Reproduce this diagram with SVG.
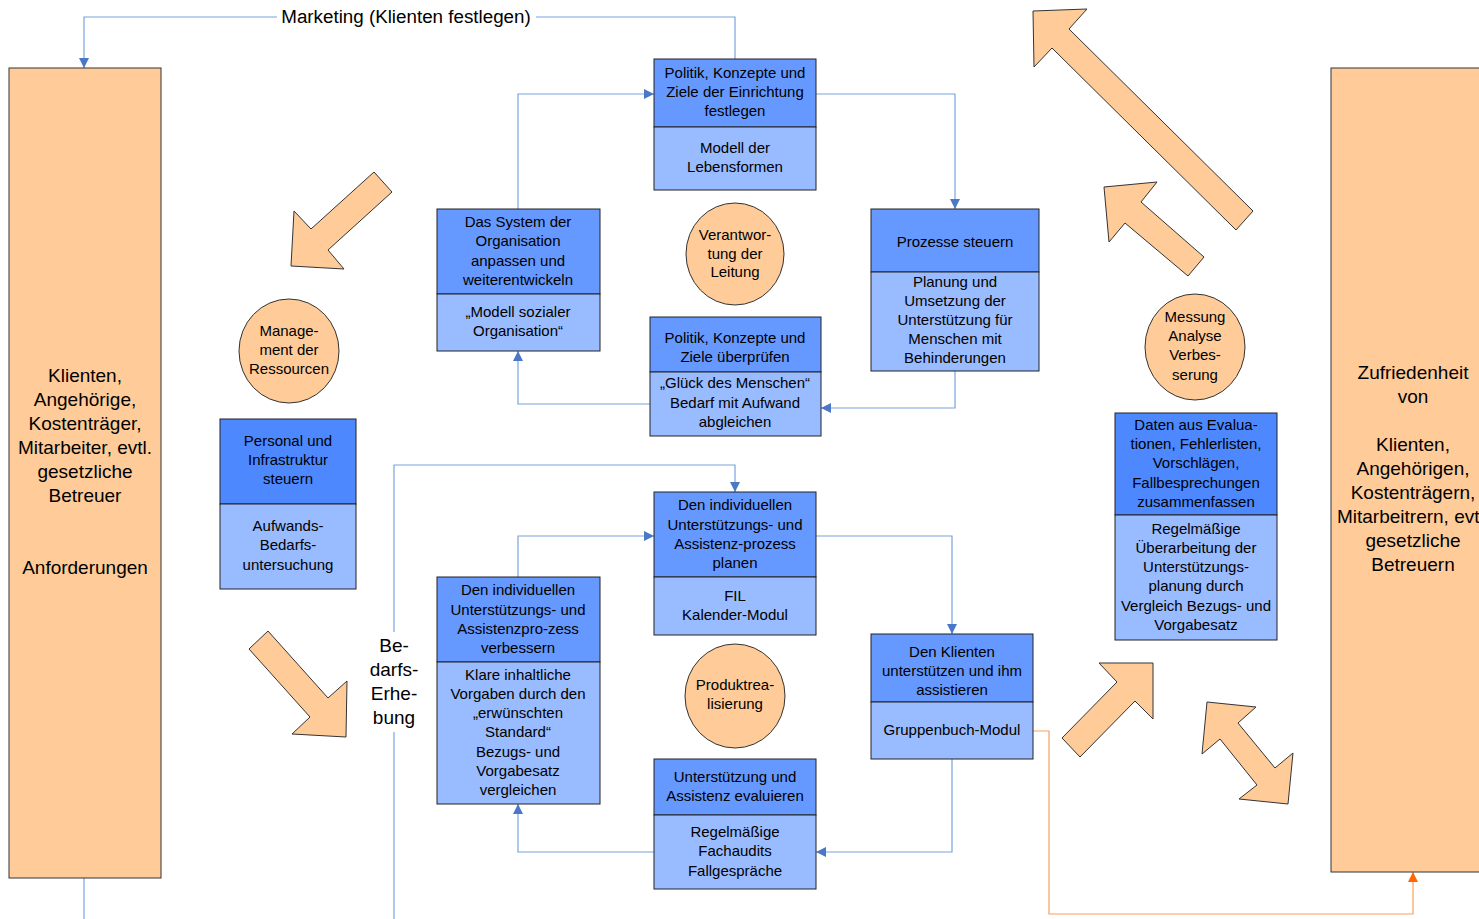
<svg xmlns="http://www.w3.org/2000/svg" width="1479" height="919" viewBox="0 0 1479 919">
<style>
text{font-family:"Liberation Sans",Arial,sans-serif;fill:#000;text-anchor:middle}
.t{font-size:15px}
.big{font-size:19px}
.hd{fill:#6699FF;stroke:#222;stroke-width:1}
.hd2{fill:#4D88FF;stroke:#222;stroke-width:1}
.bd{fill:#99BBFF;stroke:#222;stroke-width:1}
.pe{fill:#FFCC99;stroke:#333;stroke-width:1}
.cn{fill:none;stroke:#7BA3DC;stroke-width:1.2}
.or{fill:none;stroke:#F9A060;stroke-width:1.2}
</style>
<defs>
<marker id="ab" viewBox="0 0 10 10" refX="10" refY="5" markerWidth="10" markerHeight="10" markerUnits="userSpaceOnUse" orient="auto"><path d="M0,0 L10,5 L0,10 z" fill="#4A78C6"/></marker>
<marker id="ao" viewBox="0 0 10 10" refX="10" refY="5" markerWidth="10" markerHeight="10" markerUnits="userSpaceOnUse" orient="auto"><path d="M0,0 L10,5 L0,10 z" fill="#FF6600"/></marker>
</defs>

<g id="connectors">
<path class="cn" d="M735,59 V17 H536"/>
<path class="cn" d="M277,17 H84 V68" marker-end="url(#ab)"/>
<path class="cn" d="M84,878 V919"/>
<path class="cn" d="M816,94 H955 V209" marker-end="url(#ab)"/>
<path class="cn" d="M955,371 V408 H821" marker-end="url(#ab)"/>
<path class="cn" d="M650,404 H518 V351" marker-end="url(#ab)"/>
<path class="cn" d="M518,209 V94 H654" marker-end="url(#ab)"/>
<path class="cn" d="M394,919 V732"/>
<path class="cn" d="M394,632 V465 H735 V492" marker-end="url(#ab)"/>
<path class="cn" d="M816,536 H952 V634" marker-end="url(#ab)"/>
<path class="cn" d="M952,759 V852 H816" marker-end="url(#ab)"/>
<path class="cn" d="M654,852 H518 V804" marker-end="url(#ab)"/>
<path class="cn" d="M518,577 V536 H654" marker-end="url(#ab)"/>
<path class="or" d="M1033,731 H1049 V914 H1413 V872" marker-end="url(#ao)"/>
<text x="406" y="23" style="font-size:18.8px">Marketing (Klienten festlegen)</text>
<text class="big" x="394" y="652">Be-</text>
<text class="big" x="394" y="676">darfs-</text>
<text class="big" x="394" y="700">Erhe-</text>
<text class="big" x="394" y="724">bung</text>
</g>

<g id="arrows">
<polygon class="pe" points="374,172 392,192 328,250 344,269 291,266 294,211 311,229"/>
<polygon class="pe" points="249,649 268,631 328,698 347,681 346,737 292,734 310,717"/>
<polygon class="pe" points="1033,11 1087,9 1069,29 1253,211 1236,230 1052,48 1034,67"/>
<polygon class="pe" points="1104,187 1157,182 1141,202 1204,257 1188,276 1125,223 1109,242"/>
<polygon class="pe" points="1099,663 1153,663 1153,719 1135,701 1080,757 1062,738 1117,682"/>
<polygon class="pe" points="1207,702 1256,707 1238,723 1275,768 1293,753 1288,804 1239,799 1257,785 1220,739 1202,754"/>
</g>

<g id="left-box">
<rect class="pe" x="9" y="68" width="152" height="810"/>
<text class="big" x="85" y="382">Klienten,</text>
<text class="big" x="85" y="406">Angehörige,</text>
<text class="big" x="85" y="430">Kostenträger,</text>
<text class="big" x="85" y="454">Mitarbeiter, evtl.</text>
<text class="big" x="85" y="478">gesetzliche</text>
<text class="big" x="85" y="502">Betreuer</text>
<text class="big" x="85" y="574">Anforderungen</text>
</g>

<g id="right-box">
<rect class="pe" x="1331" y="68" width="170" height="804"/>
<text class="big" x="1413" y="379">Zufriedenheit</text>
<text class="big" x="1413" y="403">von</text>
<text class="big" x="1413" y="451">Klienten,</text>
<text class="big" x="1413" y="475">Angehörigen,</text>
<text class="big" x="1413" y="499">Kostenträgern,</text>
<text class="big" x="1413" y="523">Mitarbeitrern, evtl.</text>
<text class="big" x="1413" y="547">gesetzliche</text>
<text class="big" x="1413" y="571">Betreuern</text>
</g>

<g id="politik-festlegen">
<rect class="hd" x="654" y="59" width="162" height="68"/>
<rect class="bd" x="654" y="127" width="162" height="63"/>
<text class="t" x="735" y="78">Politik, Konzepte und</text>
<text class="t" x="735" y="97">Ziele der Einrichtung</text>
<text class="t" x="735" y="116">festlegen</text>
<text class="t" x="735" y="153">Modell der</text>
<text class="t" x="735" y="172">Lebensformen</text>
</g>

<g id="system-organisation">
<rect class="hd" x="437" y="209" width="163" height="85"/>
<rect class="bd" x="437" y="294" width="163" height="57"/>
<text class="t" x="518" y="227">Das System der</text>
<text class="t" x="518" y="246">Organisation</text>
<text class="t" x="518" y="266">anpassen und</text>
<text class="t" x="518" y="285">weiterentwickeln</text>
<text class="t" x="518" y="317">„Modell sozialer</text>
<text class="t" x="518" y="336">Organisation“</text>
</g>

<g id="verantwortung">
<ellipse class="pe" cx="735" cy="254" rx="49" ry="51"/>
<text class="t" x="735" y="240">Verantwor-</text>
<text class="t" x="735" y="259">tung der</text>
<text class="t" x="735" y="277">Leitung</text>
</g>

<g id="politik-ueberpruefen">
<rect class="hd" x="650" y="317" width="171" height="55"/>
<rect class="bd" x="650" y="372" width="171" height="64"/>
<text class="t" x="735" y="343">Politik, Konzepte und</text>
<text class="t" x="735" y="362">Ziele überprüfen</text>
<text class="t" x="735" y="388">„Glück des Menschen“</text>
<text class="t" x="735" y="408">Bedarf mit Aufwand</text>
<text class="t" x="735" y="427">abgleichen</text>
</g>

<g id="prozesse-steuern">
<rect class="hd" x="871" y="209" width="168" height="63"/>
<rect class="bd" x="871" y="272" width="168" height="99"/>
<text class="t" x="955" y="247">Prozesse steuern</text>
<text class="t" x="955" y="287">Planung und</text>
<text class="t" x="955" y="306">Umsetzung der</text>
<text class="t" x="955" y="325">Unterstützung für</text>
<text class="t" x="955" y="344">Menschen mit</text>
<text class="t" x="955" y="363">Behinderungen</text>
</g>

<g id="management">
<ellipse class="pe" cx="289" cy="351" rx="50" ry="52"/>
<text class="t" x="289" y="336">Manage-</text>
<text class="t" x="289" y="355">ment der</text>
<text class="t" x="289" y="374">Ressourcen</text>
</g>

<g id="personal">
<rect class="hd2" x="220" y="419" width="136" height="85"/>
<rect class="bd" x="220" y="504" width="136" height="85"/>
<text class="t" x="288" y="446">Personal und</text>
<text class="t" x="288" y="465">Infrastruktur</text>
<text class="t" x="288" y="484">steuern</text>
<text class="t" x="288" y="531">Aufwands-</text>
<text class="t" x="288" y="550">Bedarfs-</text>
<text class="t" x="288" y="570">untersuchung</text>
</g>

<g id="prozess-planen">
<rect class="hd" x="654" y="492" width="162" height="85"/>
<rect class="bd" x="654" y="577" width="162" height="58"/>
<text class="t" x="735" y="510">Den individuellen</text>
<text class="t" x="735" y="530">Unterstützungs- und</text>
<text class="t" x="735" y="549">Assistenz-prozess</text>
<text class="t" x="735" y="568">planen</text>
<text class="t" x="735" y="601">FIL</text>
<text class="t" x="735" y="620">Kalender-Modul</text>
</g>

<g id="prozess-verbessern">
<rect class="hd" x="437" y="577" width="163" height="85"/>
<rect class="bd" x="437" y="662" width="163" height="142"/>
<text class="t" x="518" y="595">Den individuellen</text>
<text class="t" x="518" y="615">Unterstützungs- und</text>
<text class="t" x="518" y="634">Assistenzpro-zess</text>
<text class="t" x="518" y="653">verbessern</text>
<text class="t" x="518" y="680">Klare inhaltliche</text>
<text class="t" x="518" y="699">Vorgaben durch den</text>
<text class="t" x="518" y="718">„erwünschten</text>
<text class="t" x="518" y="737">Standard“</text>
<text class="t" x="518" y="757">Bezugs- und</text>
<text class="t" x="518" y="776">Vorgabesatz</text>
<text class="t" x="518" y="795">vergleichen</text>
</g>

<g id="produktrealisierung">
<ellipse class="pe" cx="735" cy="696" rx="50" ry="52"/>
<text class="t" x="735" y="690">Produktrea-</text>
<text class="t" x="735" y="709">lisierung</text>
</g>

<g id="evaluieren">
<rect class="hd" x="654" y="759" width="162" height="56"/>
<rect class="bd" x="654" y="815" width="162" height="74"/>
<text class="t" x="735" y="782">Unterstützung und</text>
<text class="t" x="735" y="801">Assistenz evaluieren</text>
<text class="t" x="735" y="837">Regelmäßige</text>
<text class="t" x="735" y="856">Fachaudits</text>
<text class="t" x="735" y="876">Fallgespräche</text>
</g>

<g id="klienten-unterstuetzen">
<rect class="hd" x="871" y="634" width="162" height="68"/>
<rect class="bd" x="871" y="702" width="162" height="57"/>
<text class="t" x="952" y="657">Den Klienten</text>
<text class="t" x="952" y="676">unterstützen und ihm</text>
<text class="t" x="952" y="695">assistieren</text>
<text class="t" x="952" y="735">Gruppenbuch-Modul</text>
</g>

<g id="messung">
<ellipse class="pe" cx="1195" cy="347" rx="50" ry="53"/>
<text class="t" x="1195" y="322">Messung</text>
<text class="t" x="1195" y="341">Analyse</text>
<text class="t" x="1195" y="360">Verbes-</text>
<text class="t" x="1195" y="380">serung</text>
</g>

<g id="daten">
<rect class="hd2" x="1115" y="413" width="162" height="102"/>
<rect class="bd" x="1115" y="515" width="162" height="125"/>
<text class="t" x="1196" y="430">Daten aus Evalua-</text>
<text class="t" x="1196" y="449">tionen, Fehlerlisten,</text>
<text class="t" x="1196" y="468">Vorschlägen,</text>
<text class="t" x="1196" y="488">Fallbesprechungen</text>
<text class="t" x="1196" y="507">zusammenfassen</text>
<text class="t" x="1196" y="534">Regelmäßige</text>
<text class="t" x="1196" y="553">Überarbeitung der</text>
<text class="t" x="1196" y="572">Unterstützungs-</text>
<text class="t" x="1196" y="591">planung durch</text>
<text class="t" x="1196" y="611">Vergleich Bezugs- und</text>
<text class="t" x="1196" y="630">Vorgabesatz</text>
</g>
</svg>
